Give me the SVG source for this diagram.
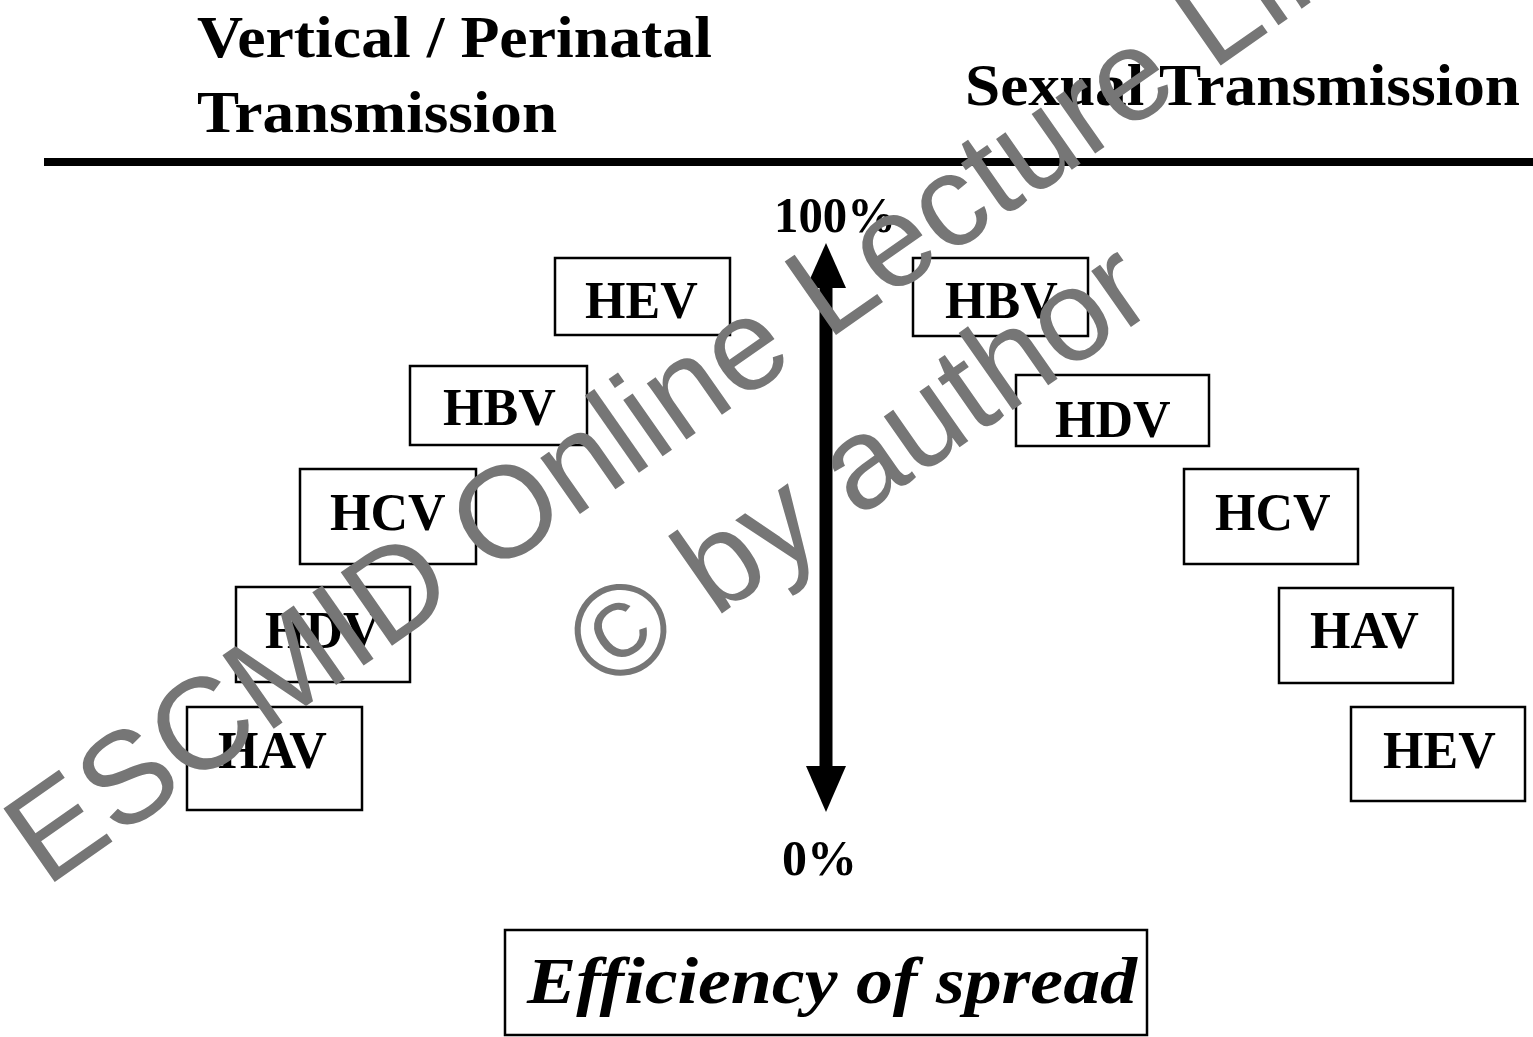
<svg xmlns="http://www.w3.org/2000/svg" width="1533" height="1037" viewBox="0 0 1533 1037">
<style>
  .bg{fill:#ffffff}
  .title{font-family:"Liberation Serif","Times New Roman",serif;font-weight:bold;font-size:60px;fill:#000}
  .lbl{font-family:"Liberation Serif","Times New Roman",serif;font-weight:bold;font-size:52px;fill:#000}
  .pct{font-family:"Liberation Serif","Times New Roman",serif;font-weight:bold;font-size:50px;fill:#000}
  .eff{font-family:"Liberation Serif","Times New Roman",serif;font-weight:bold;font-style:italic;font-size:66px;fill:#000}
  .box{fill:#ffffff;stroke:#000;stroke-width:2.5}
  .wm{font-family:"Liberation Sans",Arial,sans-serif;font-size:130px;fill:#767676}
</style>
<rect class="bg" x="0" y="0" width="1533" height="1037"/>

<g id="headers">
  <text class="title" x="197" y="57" textLength="515" lengthAdjust="spacingAndGlyphs">Vertical / Perinatal</text>
  <text class="title" x="197" y="132" textLength="360" lengthAdjust="spacingAndGlyphs">Transmission</text>
  <text class="title" x="965" y="105" textLength="555" lengthAdjust="spacingAndGlyphs">Sexual Transmission</text>
  <rect x="44" y="158" width="1489" height="8" fill="#000"/>
</g>

<g id="connectors">
  <rect x="819.5" y="282" width="13" height="490" fill="#000"/>
  <polygon points="826,243 806,288 846,288" fill="#000"/>
  <polygon points="826,812 806,766 846,766" fill="#000"/>
</g>

<g id="scale-labels">
  <text class="pct" x="774" y="232" textLength="122" lengthAdjust="spacingAndGlyphs">100%</text>
  <text class="pct" x="782" y="875" textLength="75" lengthAdjust="spacingAndGlyphs">0%</text>
</g>

<g id="left-HEV"><rect class="box" x="555" y="258" width="175" height="77"/><text class="lbl" x="585" y="318">HEV</text></g>
<g id="left-HBV"><rect class="box" x="410" y="366" width="177" height="79"/><text class="lbl" x="443" y="425">HBV</text></g>
<g id="left-HCV"><rect class="box" x="300" y="469" width="176" height="95"/><text class="lbl" x="330" y="530">HCV</text></g>
<g id="left-HDV"><rect class="box" x="236" y="587" width="174" height="95"/><text class="lbl" x="265" y="648">HDV</text></g>
<g id="left-HAV"><rect class="box" x="187" y="707" width="175" height="103"/><text class="lbl" x="218" y="768">HAV</text></g>

<g id="right-HBV"><rect class="box" x="913" y="258" width="175" height="78"/><text class="lbl" x="945" y="318">HBV</text></g>
<g id="right-HDV"><rect class="box" x="1016" y="375" width="193" height="71"/><text class="lbl" x="1055" y="437">HDV</text></g>
<g id="right-HCV"><rect class="box" x="1184" y="469" width="174" height="95"/><text class="lbl" x="1215" y="530">HCV</text></g>
<g id="right-HAV"><rect class="box" x="1279" y="588" width="174" height="95"/><text class="lbl" x="1310" y="648">HAV</text></g>
<g id="right-HEV"><rect class="box" x="1351" y="707" width="174" height="94"/><text class="lbl" x="1383" y="768">HEV</text></g>

<g id="efficiency">
  <rect class="box" x="505" y="930" width="642" height="105"/>
  <text class="eff" x="527" y="1003" textLength="610" lengthAdjust="spacingAndGlyphs">Efficiency of spread</text>
</g>

<g id="watermark">
  <text class="wm" transform="translate(46,888) rotate(-35)">ESCMID Online Lecture Library</text>
  <text class="wm" transform="translate(607,694) rotate(-35)">© by author</text>
</g>
</svg>
